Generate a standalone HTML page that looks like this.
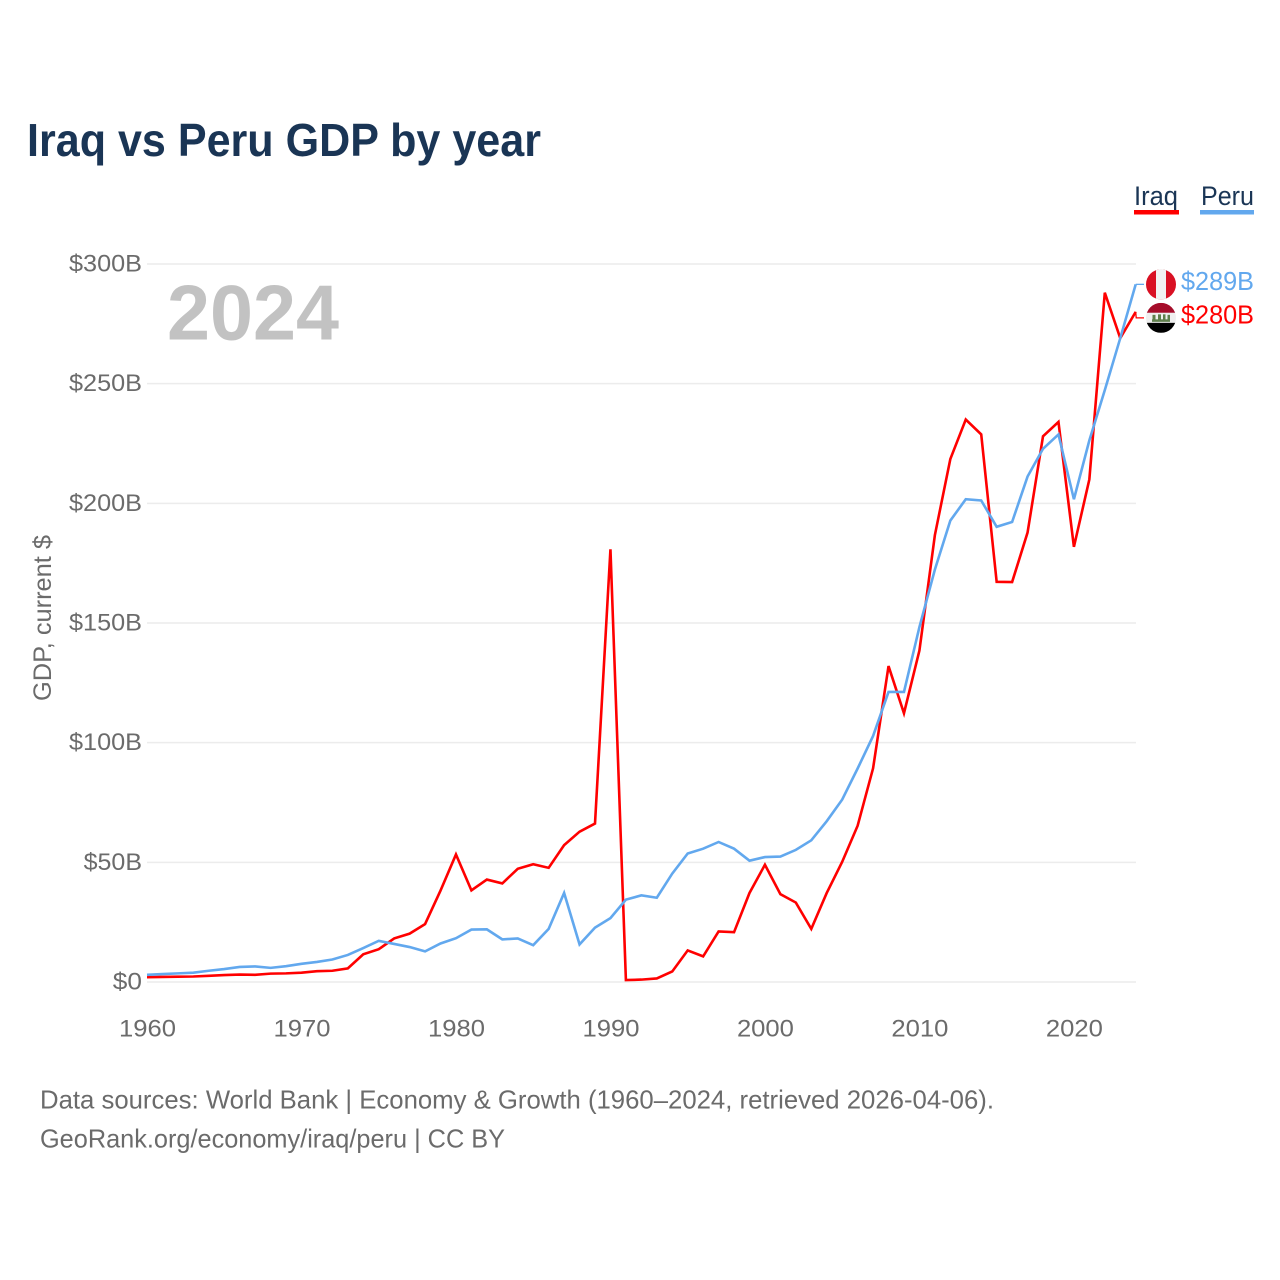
<!DOCTYPE html>
<html lang="en">
<head>
<meta charset="utf-8">
<title>Iraq vs Peru GDP by year</title>
<style>
html,body{margin:0;padding:0;background:#fff;width:1280px;height:1280px;overflow:hidden}
svg{display:block}
text{font-family:"Liberation Sans",sans-serif}
</style>
</head>
<body>
<svg id="chart" xmlns="http://www.w3.org/2000/svg" width="1280" height="1280" viewBox="0 0 1280 1280">
  <defs>
    <clipPath id="peru-clip"><circle cx="0" cy="0" r="15"/></clipPath>
    <clipPath id="iraq-clip"><circle cx="0" cy="0" r="15"/></clipPath>
  </defs>
  <text x="27" y="156" font-size="46" font-weight="700" fill="#1a3555" textLength="514" lengthAdjust="spacingAndGlyphs">Iraq vs Peru GDP by year</text>

  <g>
    <g>
      <text x="1134" y="205" font-size="27" fill="#1a3555" textLength="44" lengthAdjust="spacingAndGlyphs">Iraq</text>
      <rect x="1134" y="210" width="45" height="4.5" fill="#ff0000"/>
    </g>
    <g>
      <text x="1201" y="205" font-size="27" fill="#1a3555" textLength="53" lengthAdjust="spacingAndGlyphs">Peru</text>
      <rect x="1200" y="210" width="54" height="4.5" fill="#62a8ee"/>
    </g>
  </g>

  <text transform="translate(51 618) rotate(-90)" text-anchor="middle" font-size="25" fill="#6b6b6b" textLength="166" lengthAdjust="spacingAndGlyphs">GDP, current $</text>

  <g id="grid"></g>
  <g id="y-ticks"></g>
  <g id="x-ticks"></g>

  <text x="167" y="339.5" font-size="78" font-weight="700" fill="#c2c2c2" textLength="172" lengthAdjust="spacingAndGlyphs">2024</text>

  <g id="series"></g>

  <g id="flag-peru">
    <g clip-path="url(#peru-clip)">
      <rect x="-15" y="-15" width="30" height="30" fill="#d91023"/>
      <rect x="-5" y="-15" width="10" height="30" fill="#f1f1f1"/>
    </g>
  </g>
  <g id="flag-iraq">
    <g clip-path="url(#iraq-clip)">
      <rect x="-15" y="-15" width="30" height="10" fill="#a50d2a"/>
      <rect x="-15" y="-5" width="30" height="10" fill="#efefef"/>
      <rect x="-15" y="5" width="30" height="10" fill="#000"/>
      <rect x="-9" y="1.5" width="18" height="2.5" fill="#5f7f4c"/>
      <rect x="-8.5" y="-3" width="3" height="5" fill="#5f7f4c"/>
      <rect x="-3" y="-3.5" width="3" height="5.5" fill="#5f7f4c"/>
      <rect x="2" y="-3.5" width="2.5" height="5.5" fill="#5f7f4c"/>
      <rect x="6.5" y="-3" width="2.5" height="5" fill="#5f7f4c"/>
    </g>
  </g>
  <text id="value-peru" x="1181" font-size="25.5" fill="#62a8ee" textLength="73" lengthAdjust="spacingAndGlyphs"></text>
  <text id="value-iraq" x="1181" font-size="25.5" fill="#ff0000" textLength="73" lengthAdjust="spacingAndGlyphs"></text>

  <text x="40" y="1108.5" font-size="26" fill="#6b6b6b" textLength="954" lengthAdjust="spacingAndGlyphs">Data sources: World Bank | Economy &amp; Growth (1960–2024, retrieved 2026-04-06).</text>
  <text x="40" y="1147.5" font-size="26" fill="#6b6b6b" textLength="465" lengthAdjust="spacingAndGlyphs">GeoRank.org/economy/iraq/peru | CC BY</text>
</svg>
<script>
const startYear = 1960;
const iraqValues = [2.0,2.1,2.2,2.3,2.6,2.9,3.1,3.0,3.5,3.6,3.9,4.5,4.7,5.7,11.6,13.7,18.2,20.2,24.2,38.2,53.3,38.3,42.8,41.2,47.3,49.2,47.7,57.2,62.8,66.2,180.8,0.8,1.0,1.5,4.4,13.2,10.7,21.1,20.8,37.2,49,36.7,33.2,22.2,37.2,50.2,65.3,89.3,132,112.3,138.5,186.7,218.5,235,228.8,167.2,167.1,187.8,228,234,181.8,210,288,269,280];
const peruValues = [3.0,3.3,3.6,3.9,4.7,5.4,6.3,6.5,5.9,6.6,7.6,8.4,9.4,11.3,14.2,17.2,15.9,14.6,12.8,16.1,18.3,21.9,22,17.8,18.2,15.4,22.2,37.2,15.7,22.7,26.7,34.4,36.2,35.2,45.3,53.7,55.7,58.5,55.7,50.7,52.2,52.4,55.2,59.2,67.2,76.2,89.2,102.8,121.2,121.2,148.3,172.3,192.8,201.7,201.2,190.2,192.2,211.2,222.8,228.8,201.7,226.3,247.3,269,291.5];
const yTickValues = [0,50,100,150,200,250,300];
const yTickLabels = ["$0","$50B","$100B","$150B","$200B","$250B","$300B"];
const xTickYears = [1960,1970,1980,1990,2000,2010,2020];
const endLabels = ["$289B","$280B"];

const NS = "http://www.w3.org/2000/svg";
const xScale = function (year) { return 147 + (year - 1960) * (1135.7 - 147) / 64; };
const yScale = function (v) { return 982 - v * (982 - 264) / 300; };

function makeEl(tag, parent, attrs) {
  const el = document.createElementNS(NS, tag);
  Object.keys(attrs).forEach(function (k) { el.setAttribute(k, attrs[k]); });
  parent.appendChild(el);
  return el;
}

const gridG = document.getElementById("grid");
const yG = document.getElementById("y-ticks");
yTickValues.forEach(function (v, i) {
  const line = makeEl("line", gridG, {x1: 147, x2: 1136, y1: yScale(v), y2: yScale(v), stroke: "#ececec", "stroke-width": 1.5});
  
  
  const label = yTickLabels[i];
  const t = makeEl("text", yG, {x: 142, y: yScale(v) + 7.5, "text-anchor": "end", "font-size": 24.5, fill: "#6b6b6b", textLength: label.length * 14.6, lengthAdjust: "spacingAndGlyphs"});
  t.textContent = label;
  
  
});

const xG = document.getElementById("x-ticks");
xTickYears.forEach(function (yr) {
  const t = makeEl("text", xG, {x: xScale(yr) + 0.5, y: 1036.5, "text-anchor": "middle", "font-size": 24.5, fill: "#6b6b6b", textLength: 57, lengthAdjust: "spacingAndGlyphs"});
  t.textContent = String(yr);
  
  
});

function linePoints(values) {
  return values.map(function (v, i) {
    return xScale(startYear + i).toFixed(2) + "," + yScale(v).toFixed(2);
  }).join(" ");
}

const seriesG = document.getElementById("series");
const iraqLine = makeEl("polyline", seriesG, {points: linePoints(iraqValues), fill: "none", stroke: "#ff0000", "stroke-width": 2.6, "stroke-linejoin": "miter"});


const peruLine = makeEl("polyline", seriesG, {points: linePoints(peruValues), fill: "none", stroke: "#62a8ee", "stroke-width": 2.6, "stroke-linejoin": "miter"});



/* End labels: flags sit at the line end, pushed apart so they do not overlap */
const endX = xScale(startYear + peruValues.length - 1);
const peruEndY = yScale(peruValues[peruValues.length - 1]);
const iraqEndY = yScale(iraqValues[iraqValues.length - 1]);
const labelGap = 33.5;
let peruFlagY = peruEndY;
let iraqFlagY = iraqEndY;
if (Math.abs(peruFlagY - iraqFlagY) < labelGap) {
  if (peruFlagY <= iraqFlagY) { iraqFlagY = peruFlagY + labelGap; }
  else { peruFlagY = iraqFlagY + labelGap; }
}

const peruConn = makeEl("polyline", seriesG, {points: endX + "," + peruEndY + " " + (endX + 0.5) + "," + peruFlagY + " 1144," + peruFlagY, fill: "none", stroke: "#62a8ee", "stroke-width": 1.3});


const iraqConn = makeEl("polyline", seriesG, {points: endX + "," + iraqEndY + " " + (endX + 0.5) + "," + iraqFlagY + " 1144," + iraqFlagY, fill: "none", stroke: "#ff0000", "stroke-width": 1.3});



document.getElementById("flag-peru").setAttribute("transform", "translate(1161 " + peruFlagY + ")");
document.getElementById("flag-iraq").setAttribute("transform", "translate(1161 " + iraqFlagY + ")");

const peruVal = document.getElementById("value-peru");
peruVal.setAttribute("y", peruFlagY + 5.5);
peruVal.textContent = endLabels[0];
const iraqVal = document.getElementById("value-iraq");
iraqVal.setAttribute("y", iraqFlagY + 5.5);
iraqVal.textContent = endLabels[1];
</script>
</body>
</html>
